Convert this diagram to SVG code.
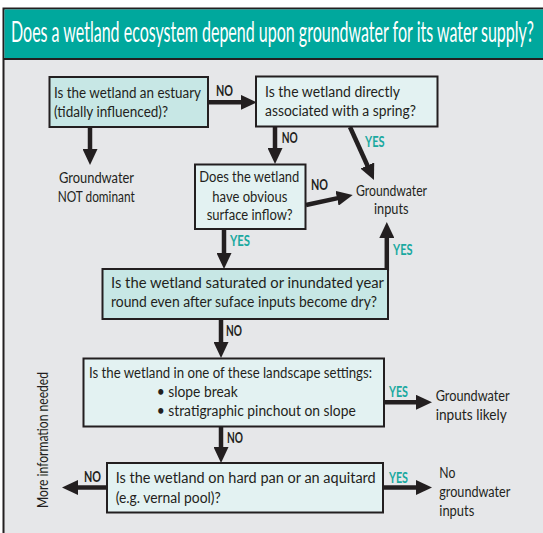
<svg xmlns="http://www.w3.org/2000/svg" width="543" height="533" viewBox="0 0 543 533">
<style>
.t{font-family:Lato,"Liberation Sans",sans-serif;font-size:15.5px;fill:#231f20;}
.lab{font-family:Lato,"Liberation Sans",sans-serif;font-size:15px;font-weight:bold;}
.no{fill:#231f20;}
.yes{fill:#1aa9a0;}
.bx{stroke:#231f20;stroke-width:2;}
.dk{fill:#c7e7e5;}
.lt{fill:#e3f2f2;}
.ar{stroke:#231f20;stroke-width:4.5;fill:none;marker-end:url(#ah);}
</style>
<defs>
<marker id="ah" markerUnits="userSpaceOnUse" markerWidth="16" markerHeight="15" refX="2" refY="7.5" orient="auto">
<path d="M0,0 L16,7.5 L0,15 z" fill="#231f20"/>
</marker>
</defs>
<rect x="0" y="0" width="543" height="533" fill="#ffffff"/>
<rect x="3.5" y="8.5" width="560" height="560" fill="#e6e7e9" stroke="#231f20" stroke-width="2"/>
<rect x="4.5" y="9.5" width="560" height="49" fill="#00a89d"/>
<line x1="4" y1="59" x2="543" y2="59" stroke="#231f20" stroke-width="2"/>
<text x="11" y="42" font-family="Lato,'Liberation Sans',sans-serif" font-size="28" fill="#ffffff" textLength="523" lengthAdjust="spacingAndGlyphs">Does a wetland ecosystem depend upon groundwater for its water supply?</text>

<g id="connectors">
<line class="ar" x1="90" y1="127" x2="90" y2="151"/>
<line class="ar" x1="208" y1="102.3" x2="242.7" y2="102.3"/>
<line class="ar" x1="275" y1="127" x2="275" y2="150"/>
<line class="ar" x1="350" y1="127" x2="368.2" y2="167.3"/>
<line class="ar" x1="306" y1="205" x2="339" y2="197.9"/>
<line class="ar" x1="386.8" y1="271" x2="386.8" y2="236"/>
<line class="ar" x1="224" y1="229" x2="224" y2="255"/>
<line class="ar" x1="221" y1="319" x2="221" y2="344"/>
<line class="ar" x1="384" y1="402.3" x2="418" y2="402.3"/>
<line class="ar" x1="221" y1="427" x2="221" y2="449"/>
<line class="ar" x1="107" y1="487.5" x2="76" y2="487.5"/>
<line class="ar" x1="383" y1="487.5" x2="418" y2="487.5"/>
<text class="lab no" x="216" y="96" textLength="17" lengthAdjust="spacingAndGlyphs">NO</text>
<text class="lab no" x="281.7" y="143.3" textLength="16" lengthAdjust="spacingAndGlyphs">NO</text>
<text class="lab yes" x="365" y="147" textLength="19.5" lengthAdjust="spacingAndGlyphs">YES</text>
<text class="lab no" x="311" y="190" textLength="17" lengthAdjust="spacingAndGlyphs">NO</text>
<text class="lab yes" x="230" y="246" textLength="20" lengthAdjust="spacingAndGlyphs">YES</text>
<text class="lab yes" x="393" y="255" textLength="19.5" lengthAdjust="spacingAndGlyphs">YES</text>
<text class="lab no" x="226" y="336" textLength="16" lengthAdjust="spacingAndGlyphs">NO</text>
<text class="lab yes" x="389" y="396.7" textLength="19" lengthAdjust="spacingAndGlyphs">YES</text>
<text class="lab no" x="227" y="442.7" textLength="16" lengthAdjust="spacingAndGlyphs">NO</text>
<text class="lab no" x="84" y="481.7" textLength="17" lengthAdjust="spacingAndGlyphs">NO</text>
<text class="lab yes" x="389" y="482.7" textLength="19" lengthAdjust="spacingAndGlyphs">YES</text>
</g>

<g id="estuary">
<rect class="bx dk" x="49.5" y="77" width="158.5" height="50"/>
<text class="t" x="54" y="98.3" textLength="147" lengthAdjust="spacingAndGlyphs">Is the wetland an estuary</text>
<text class="t" x="54" y="116.7" textLength="114" lengthAdjust="spacingAndGlyphs">(tidally influenced)?</text>
</g>

<g id="not-dominant">
<text class="t" x="59" y="183.3" textLength="75" lengthAdjust="spacingAndGlyphs">Groundwater</text>
<text class="t" x="57.7" y="201.7" textLength="77" lengthAdjust="spacingAndGlyphs">NOT dominant</text>
</g>

<g id="spring">
<rect class="bx lt" x="256" y="76.5" width="181.5" height="50"/>
<text class="t" x="265" y="96.7" textLength="135" lengthAdjust="spacingAndGlyphs">Is the wetland directly</text>
<text class="t" x="265" y="115.7" textLength="151" lengthAdjust="spacingAndGlyphs">associated with a spring?</text>
</g>

<g id="inflow">
<rect class="bx lt" x="195" y="164.5" width="110.5" height="64.5"/>
<text class="t" x="199.3" y="181.7" textLength="100" lengthAdjust="spacingAndGlyphs">Does the wetland</text>
<text class="t" x="212.3" y="201.7" textLength="75" lengthAdjust="spacingAndGlyphs">have obvious</text>
<text class="t" x="206.7" y="220" textLength="86" lengthAdjust="spacingAndGlyphs">surface inflow?</text>
</g>

<g id="gw-inputs">
<text class="t" x="356" y="196" textLength="71" lengthAdjust="spacingAndGlyphs">Groundwater</text>
<text class="t" x="374" y="214" textLength="34.5" lengthAdjust="spacingAndGlyphs">inputs</text>
</g>

<g id="saturated">
<rect class="bx dk" x="102.5" y="269" width="285.5" height="50"/>
<text class="t" x="111" y="288.3" textLength="273" lengthAdjust="spacingAndGlyphs">Is the wetland saturated or inundated year</text>
<text class="t" x="111" y="307.3" textLength="266" lengthAdjust="spacingAndGlyphs">round even after suface inputs become dry?</text>
</g>

<g id="landscape">
<rect class="bx lt" x="83.5" y="358.5" width="300.5" height="68"/>
<text class="t" x="89" y="377.7" textLength="283" lengthAdjust="spacingAndGlyphs">Is the wetland in one of these landscape settings:</text>
<text class="t" x="156.7" y="396.7" textLength="81" lengthAdjust="spacingAndGlyphs">• slope break</text>
<text class="t" x="156.7" y="416" textLength="199" lengthAdjust="spacingAndGlyphs">• stratigraphic pinchout on slope</text>
</g>

<g id="gw-likely">
<text class="t" x="435.7" y="401" textLength="74" lengthAdjust="spacingAndGlyphs">Groundwater</text>
<text class="t" x="435.7" y="420" textLength="71" lengthAdjust="spacingAndGlyphs">inputs likely</text>
</g>

<g id="hardpan">
<rect class="bx lt" x="107" y="463" width="276" height="49.5"/>
<text class="t" x="115.7" y="482.7" textLength="260" lengthAdjust="spacingAndGlyphs">Is the wetland on hard pan or an aquitard</text>
<text class="t" x="115.7" y="503.3" textLength="105" lengthAdjust="spacingAndGlyphs">(e.g. vernal pool)?</text>
</g>

<g id="no-gw">
<text class="t" x="439.3" y="477.7" textLength="16" lengthAdjust="spacingAndGlyphs">No</text>
<text class="t" x="439.3" y="497.3" textLength="71" lengthAdjust="spacingAndGlyphs">groundwater</text>
<text class="t" x="439.3" y="516" textLength="35" lengthAdjust="spacingAndGlyphs">inputs</text>
</g>

<g id="more-info">
<text class="t" transform="translate(47.5,440) rotate(-90)" x="0" y="0" text-anchor="middle" font-size="14.5" textLength="136" lengthAdjust="spacingAndGlyphs">More information needed</text>
</g>
</svg>
